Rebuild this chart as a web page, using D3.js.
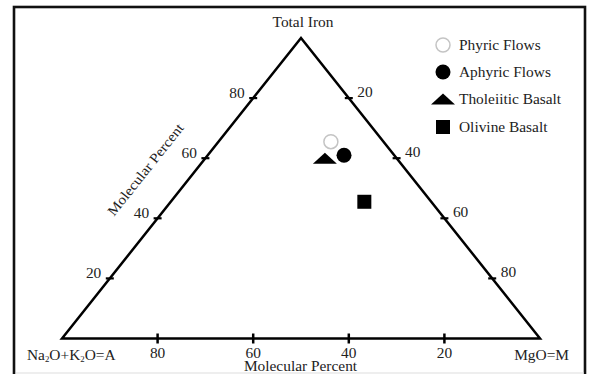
<!DOCTYPE html>
<html>
<head>
<meta charset="utf-8">
<script src="https://cdn.jsdelivr.net/npm/d3@7"></script>
<style>
  html, body { margin: 0; padding: 0; background: #fff; }
  svg { display: block; }
  svg text { font-family: "Liberation Serif", "Tinos", "Times New Roman", Times, serif; fill: #222; }
</style>
</head>
<body>
<script>
// AFM ternary diagram: total iron (F), alkalis Na2O+K2O (A), MgO (M), molecular percent
const series = ["Phyric Flows", "Aphyric Flows", "Tholeiitic Basalt", "Olivine Basalt"];
const totalIron = [65.5, 61, 60, 45.5];
const alkalis = [11, 10.5, 15, 14];
const magnesia = [23.5, 28.5, 25, 40.5];
const tickValues = [20, 40, 60, 80];

const W = 590, H = 374;
const FONT = "'Liberation Serif', 'Times New Roman', Times, serif";
const svg = d3.select("body").append("svg").attr("width", W).attr("height", H)
  .attr("font-family", FONT);

// cartesian helpers: horizontal position from (m + f/2), vertical from f
const xs = d3.scaleLinear().domain([0, 1]).range([62, 540]);
const ys = d3.scaleLinear().domain([0, 1]).range([338.5, 38]);
function project(a, f, m) {
  const s = a + f + m;
  const ff = f / s, mm = m / s;
  return [xs(mm + ff / 2), ys(ff)];
}

const SX = 1.1; // slight horizontal stretch of the lettering
function label(g, x, y, txt, size, anchor) {
  return g.append("text")
    .attr("transform", `translate(${x},${y}) scale(${SX},1)`)
    .attr("font-family", FONT)
    .attr("font-size", size)
    .attr("text-anchor", anchor || "middle")
    .text(txt);
}

// outer frame
svg.append("rect")
  .attr("x", 14).attr("y", 7).attr("width", 571).attr("height", 390)
  .attr("fill", "none").attr("stroke", "#111").attr("stroke-width", 2.6);
svg.append("line").attr("x1", 16).attr("x2", 584).attr("y1", 373).attr("y2", 373)
  .attr("stroke", "#ddd").attr("stroke-width", 1);

// triangle
const A = project(1, 0, 0), T = project(0, 1, 0), M = project(0, 0, 1);
svg.append("path")
  .attr("d", d3.line()([A, T, M, A]) + "Z")
  .attr("fill", "none").attr("stroke", "#000").attr("stroke-width", 2.5)
  .attr("stroke-linejoin", "miter");

const axes = svg.append("g");

// left edge (A–F): total iron percent
tickValues.forEach(v => {
  const [x, y] = project(100 - v, v, 0);
  axes.append("line").attr("x1", x - 4).attr("x2", x + 4).attr("y1", y).attr("y2", y)
    .attr("stroke", "#000").attr("stroke-width", 2.2);
  label(axes, x - 8.5, y - 0.5, v, 14, "end");
});
// right edge (F–M): MgO percent
tickValues.forEach(v => {
  const [x, y] = project(0, 100 - v, v);
  axes.append("line").attr("x1", x - 4).attr("x2", x + 4).attr("y1", y).attr("y2", y)
    .attr("stroke", "#000").attr("stroke-width", 2.2);
  label(axes, x + 8.5, y - 1.5, v, 14, "start");
});
// bottom edge (A–M): alkali percent
tickValues.forEach(v => {
  const [x, y] = project(v, 0, 100 - v);
  axes.append("line").attr("x1", x).attr("x2", x).attr("y1", y - 5).attr("y2", y + 5)
    .attr("stroke", "#000").attr("stroke-width", 2.5);
  label(axes, x, 358, v, 14, "middle");
});

// apex labels
label(svg, T[0] + 2, 27, "Total Iron", 14, "middle");
const na = svg.append("text")
  .attr("transform", `translate(27,360) scale(${SX},1)`)
  .attr("font-family", FONT)
  .attr("font-size", 14).attr("text-anchor", "start");
na.append("tspan").text("Na");
na.append("tspan").attr("font-size", 8).attr("dy", 2).text("2");
na.append("tspan").attr("dy", -2).text("O+K");
na.append("tspan").attr("font-size", 8).attr("dy", 2).text("2");
na.append("tspan").attr("dy", -2).text("O=A");
label(svg, 569, 360, "MgO=M", 14, "end");

// axis titles
label(svg, 300.5, 371, "Molecular Percent", 14, "middle");
{
  const frac = 0.48, off = 40;
  const px = A[0] + (T[0] - A[0]) * frac, py = A[1] + (T[1] - A[1]) * frac;
  const len = Math.hypot(T[0] - A[0], T[1] - A[1]);
  const ux = (T[0] - A[0]) / len, uy = (T[1] - A[1]) / len;
  // outward normal (upper-left)
  const nx = uy, ny = -ux;
  const cx = px + nx * off, cy = py + ny * off;
  const ang = Math.atan2(T[1] - A[1], T[0] - A[0]) * 180 / Math.PI;
  svg.append("text")
    .attr("transform", `translate(${cx},${cy}) rotate(${ang}) scale(${SX},1)`)
    .attr("font-family", FONT)
    .attr("font-size", 14).attr("text-anchor", "middle").attr("dy", "0.35em")
    .text("Molecular Percent");
}

// marker drawing
const triPath = (w, h) => `M${-w / 2},${h / 2}L0,${-h / 2}L${w / 2},${h / 2}Z`;
function marker(g, i, x, y) {
  if (i === 0) {
    g.append("circle").attr("cx", x).attr("cy", y).attr("r", 7)
      .attr("fill", "#fff").attr("stroke", "#c4c4c4").attr("stroke-width", 1.5);
  } else if (i === 1) {
    g.append("circle").attr("cx", x).attr("cy", y).attr("r", 7.5).attr("fill", "#000");
  } else if (i === 2) {
    g.append("path").attr("transform", `translate(${x},${y})`)
      .attr("d", triPath(24, 11)).attr("fill", "#000");
  } else {
    g.append("rect").attr("x", x - 7).attr("y", y - 7).attr("width", 14).attr("height", 14)
      .attr("fill", "#000");
  }
}

// data points
const pts = svg.append("g");
series.forEach((s, i) => {
  const [x, y] = project(alkalis[i], totalIron[i], magnesia[i]);
  marker(pts, i, x, y);
});

// legend
const leg = svg.append("g");
const rowY = [45, 72, 99, 127];
series.forEach((s, i) => {
  marker(leg, i, 443, rowY[i]);
  label(leg, 459, rowY[i] + 5, s, 14, "start");
});
</script>
</body>
</html>
